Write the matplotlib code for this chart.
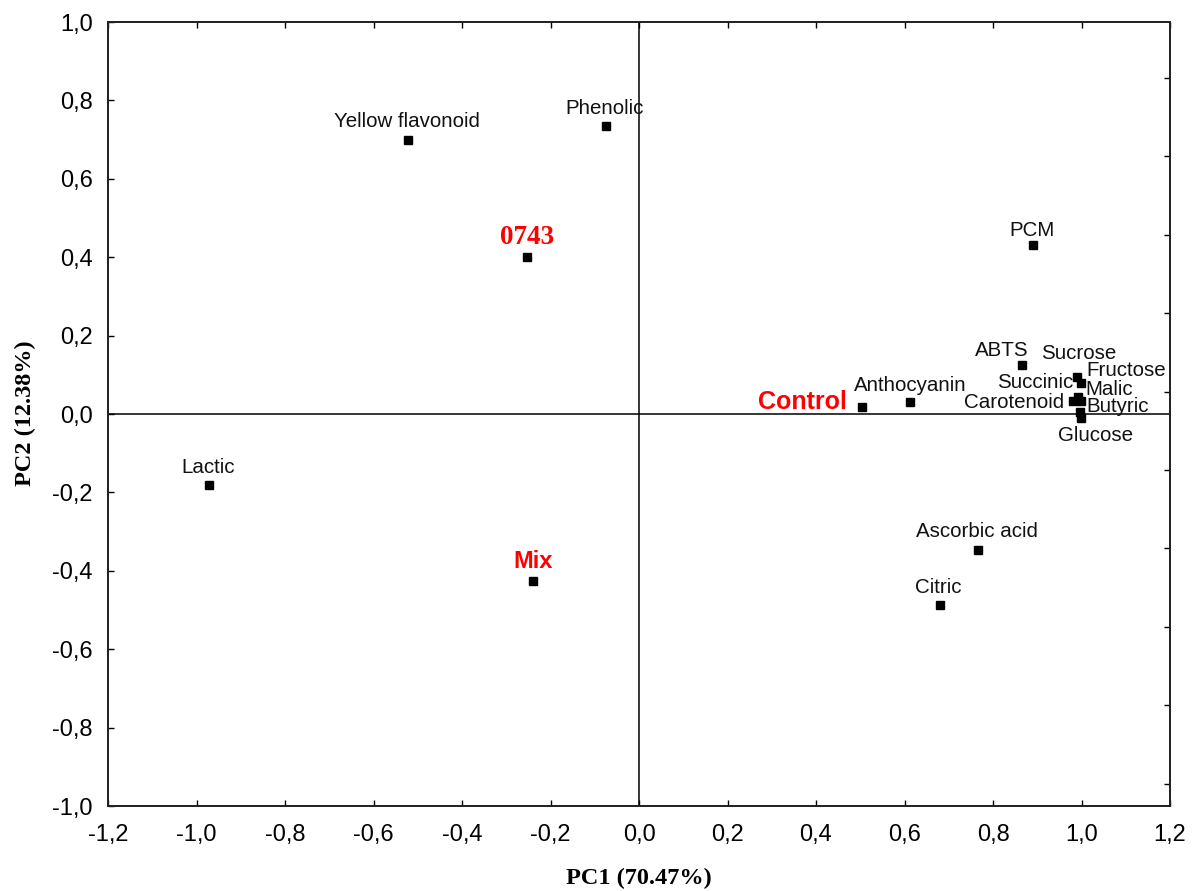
import numpy as np
import matplotlib
matplotlib.use("Agg")
import matplotlib.pyplot as plt

# Variable loadings (PC1, PC2)
var_names = ["Yellow flavonoid", "Phenolic", "PCM", "ABTS", "Sucrose", "Fructose",
             "Succinic", "Malic", "Carotenoid", "Butyric", "Glucose", "Anthocyanin",
             "Lactic", "Ascorbic acid", "Citric"]
var_pc1 = [-0.522, -0.075, 0.890, 0.866, 0.990, 0.998, 0.992, 0.998, 0.980, 0.996, 0.999,
           0.612, -0.972, 0.766, 0.680]
var_pc2 = [0.699, 0.735, 0.431, 0.125, 0.094, 0.079, 0.043, 0.033, 0.033, 0.005, -0.010,
           0.031, -0.181, -0.347, -0.487]

# Sample scores
sample_names = ["0743", "Control", "Mix"]
sample_pc1 = [-0.253, 0.504, -0.240]
sample_pc2 = [0.400, 0.018, -0.426]

xticks = [-1.2, -1.0, -0.8, -0.6, -0.4, -0.2, 0.0, 0.2, 0.4, 0.6, 0.8, 1.0, 1.2]
yticks = [-1.0, -0.8, -0.6, -0.4, -0.2, 0.0, 0.2, 0.4, 0.6, 0.8, 1.0]

# label placement (pixel offsets from marker: dx, dy(down positive), ha)
var_offsets = {
    "Yellow flavonoid": (-1, -18, "center"),
    "Phenolic": (-1, -17, "center"),
    "PCM": (-1, -15, "center"),
    "ABTS": (-20, -14, "center"),
    "Sucrose": (2, -24, "center"),
    "Fructose": (6, -13, "left"),
    "Succinic": (-5, -15, "right"),
    "Malic": (5, -12, "left"),
    "Carotenoid": (-9, 1, "right"),
    "Butyric": (7, -6, "left"),
    "Glucose": (14, 18, "center"),
    "Anthocyanin": (0, -16, "center"),
    "Lactic": (-1, -17, "center"),
    "Ascorbic acid": (-1, -19, "center"),
    "Citric": (-2, -17, "center"),
}
sample_offsets = {
    "0743": (0, -20, "center", "Liberation Serif", 19.5),
    "Control": (-15, -5, "right", "Liberation Sans", 18),
    "Mix": (0, -19, "center", "Liberation Sans", 17),
}

PX = 0.72  # points per pixel at dpi 100

fig = plt.figure(figsize=(11.95, 8.91), dpi=100)
ax = fig.add_axes([108/1195, 1-806/891, (1170-108)/1195, (806-22)/891])

ax.set_xlim(-1.2, 1.2)
ax.set_ylim(-1.0, 1.0)

ax.axhline(0, color="black", lw=1.1, zorder=1)
ax.axvline(0, color="black", lw=1.1, zorder=1)

ax.plot(var_pc1, var_pc2, "s", color="black", ms=5.3, zorder=3)
ax.plot(sample_pc1, sample_pc2, "s", color="black", ms=5.3, zorder=3)

for n, x, y in zip(var_names, var_pc1, var_pc2):
    dx, dy, ha = var_offsets[n]
    ax.annotate(n, (x, y), xytext=(dx*PX, -dy*PX), textcoords="offset points",
                ha=ha, va="center", fontsize=14.8, family="Liberation Sans", color="#111111",
                zorder=4)

for n, x, y in zip(sample_names, sample_pc1, sample_pc2):
    dx, dy, ha, fam, fs = sample_offsets[n]
    ax.annotate(n, (x, y), xytext=(dx*PX, -dy*PX), textcoords="offset points",
                ha=ha, va="center", fontsize=fs, family=fam, fontweight="bold",
                color="#ff0000", zorder=4)

fmt = lambda v: f"{v:.1f}".replace(".", ",")
ax.set_xticks(xticks)
ax.set_xticklabels([fmt(v) for v in xticks])
ax.set_yticks(yticks)
ax.set_yticklabels([fmt(v) for v in yticks])
ax.tick_params(direction="in", length=4.5, width=1.0, labelsize=17, top=True,
               right=False, color="black")
ax.tick_params(axis="x", pad=13)
ax.tick_params(axis="y", pad=11)
for lab in ax.get_xticklabels() + ax.get_yticklabels():
    lab.set_family("Liberation Sans")

# right-side ticks (Statistica-style, offset)
axr = ax.twinx()
axr.set_ylim(-1.0, 1.0)
axr.set_yticks([t + 0.057 for t in yticks[:-1]])
axr.set_yticklabels([])
axr.tick_params(direction="in", length=4.5, width=1.0)

for a in (ax, axr):
    for s in a.spines.values():
        s.set_linewidth(1.3)
        s.set_color("#222222")

fig.text(639/1195, 1-878/891, "PC1 (70.47%)", ha="center", va="center",
         family="Liberation Serif", fontweight="bold", fontsize=17.5)
fig.text(25/1195, 1-413/891, "PC2 (12.38%)", ha="center", va="center", rotation=90,
         family="Liberation Serif", fontweight="bold", fontsize=17.5)

fig.savefig("out.png", dpi=100)
